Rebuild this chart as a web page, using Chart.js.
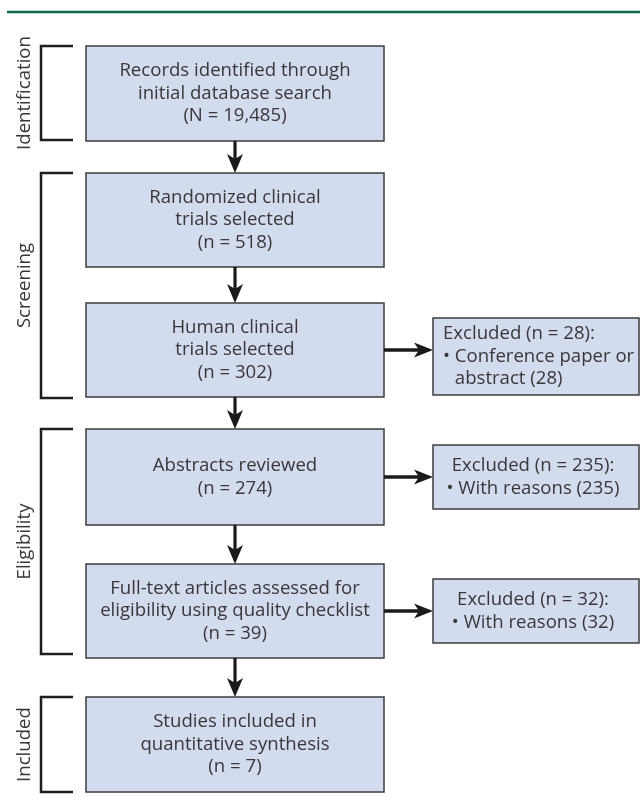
<!DOCTYPE html>
<html>
<head>
<meta charset="utf-8">
<script src="https://cdn.jsdelivr.net/npm/chart.js@4"></script>
<style>
  html, body { margin: 0; padding: 0; background: #ffffff; }
  #wrap { width: 640px; height: 807px; position: relative; }
</style>
</head>
<body>
<div id="wrap"><canvas id="c" width="640" height="807"></canvas></div>
<script>
// ---- DATA ----
const stages = ["Identification", "Screening", "Eligibility", "Included"];
const mainSteps = [
  "Records identified through\ninitial database search",
  "Randomized clinical\ntrials selected",
  "Human clinical\ntrials selected",
  "Abstracts reviewed",
  "Full-text articles assessed for\neligibility using quality checklist",
  "Studies included in\nquantitative synthesis"
];
const mainCountSymbols = ["N", "n", "n", "n", "n", "n"];
const mainCounts = [19485, 518, 302, 274, 39, 7];
const excludedFromStep = [2, 3, 4];
const excludedCounts = [28, 235, 32];
const excludedReasons = ["Conference paper or\nabstract", "With reasons", "With reasons"];
const excludedReasonCounts = [28, 235, 32];

// ---- LAYOUT (in scale units) ----
const mainX = [86, 384];
const mainRows = [[46, 141], [173, 267], [303, 397], [429, 525], [564, 658], [697, 792]];
const exclX = [433, 639];
const exclRows = [[318, 395], [445, 509], [579, 643]];
const exclAlign = ["left", "center", "center"];
const stageRows = [[46, 140], [173, 398], [429, 654], [697, 792]];
const bracketX = [41, 73];
const stageLabelX = 25;

const FONT = "'Open Sans', 'Noto Sans', sans-serif";
const BOX_FILL = "#d3dbee";
const BOX_STROKE = "#3c3c3c";
const TEXT = "#383838";
const LINE_H = 22.5;

function fmt(n) { return n.toLocaleString("en-US"); }

const flowPlugin = {
  id: "flow",
  afterDraw(chart) {
    const ctx = chart.ctx;
    const xs = chart.scales.x, ys = chart.scales.y;
    const X = v => xs.getPixelForValue(v);
    const Y = v => ys.getPixelForValue(v);
    ctx.save();

    // top rule
    ctx.strokeStyle = "#0b6a4d";
    ctx.lineWidth = 2.5;
    ctx.beginPath(); ctx.moveTo(X(7), Y(12)); ctx.lineTo(X(640), Y(12)); ctx.stroke();

    function box(x0, x1, y0, y1) {
      ctx.fillStyle = BOX_FILL;
      ctx.fillRect(X(x0), Y(y0), X(x1) - X(x0), Y(y1) - Y(y0));
      ctx.strokeStyle = BOX_STROKE;
      ctx.lineWidth = 1.5;
      ctx.strokeRect(X(x0), Y(y0), X(x1) - X(x0), Y(y1) - Y(y0));
    }
    function arrowDown(x, y0, y1) {
      const px = X(x), p0 = Y(y0), p1 = Y(y1);
      const hl = 19, hw = 8, notch = 5;
      ctx.strokeStyle = "#1a1a1a"; ctx.fillStyle = "#1a1a1a";
      ctx.lineWidth = 3.2;
      ctx.beginPath(); ctx.moveTo(px, p0); ctx.lineTo(px, p1 - hl + notch + 1); ctx.stroke();
      ctx.beginPath();
      ctx.moveTo(px, p1);
      ctx.lineTo(px - hw, p1 - hl);
      ctx.lineTo(px, p1 - hl + notch);
      ctx.lineTo(px + hw, p1 - hl);
      ctx.closePath(); ctx.fill();
    }
    function arrowRight(y, x0, x1) {
      const py = Y(y), p0 = X(x0), p1 = X(x1);
      const hl = 19, hw = 7.5, notch = 5;
      ctx.strokeStyle = "#1a1a1a"; ctx.fillStyle = "#1a1a1a";
      ctx.lineWidth = 3.6;
      ctx.beginPath(); ctx.moveTo(p0, py); ctx.lineTo(p1 - hl + notch + 1, py); ctx.stroke();
      ctx.beginPath();
      ctx.moveTo(p1, py);
      ctx.lineTo(p1 - hl, py - hw);
      ctx.lineTo(p1 - hl + notch, py);
      ctx.lineTo(p1 - hl, py + hw);
      ctx.closePath(); ctx.fill();
    }

    ctx.font = "18.6px " + FONT;
    ctx.textBaseline = "middle";

    // main boxes
    const cx = (mainX[0] + mainX[1]) / 2;
    mainSteps.forEach((t, i) => {
      const [y0, y1] = mainRows[i];
      box(mainX[0], mainX[1], y0, y1);
      const lines = t.split("\n").concat(["(" + mainCountSymbols[i] + " = " + fmt(mainCounts[i]) + ")"]);
      const mid = (Y(y0) + Y(y1)) / 2;
      ctx.fillStyle = TEXT; ctx.textAlign = "center";
      lines.forEach((l, k) => {
        ctx.fillText(l, X(cx), mid + (k - (lines.length - 1) / 2) * LINE_H);
      });
      if (i < mainSteps.length - 1) arrowDown(cx, y1, mainRows[i + 1][0]);
    });

    // excluded boxes
    excludedCounts.forEach((n, j) => {
      const [y0, y1] = exclRows[j];
      const src = mainRows[excludedFromStep[j]];
      const ay = (src[0] + src[1]) / 2;
      arrowRight(ay, mainX[1], exclX[0]);
      box(exclX[0], exclX[1], y0, y1);
      const rs = excludedReasons[j].split("\n");
      rs[rs.length - 1] += " (" + fmt(excludedReasonCounts[j]) + ")";
      const lines = [{ t: "Excluded (n = " + fmt(n) + "):", indent: 0 }];
      rs.forEach((r, k) => lines.push({ t: (k === 0 ? "\u2022 " : "") + r, indent: k === 0 ? 0 : 1 }));
      const mid = (Y(y0) + Y(y1)) / 2;
      ctx.fillStyle = TEXT;
      lines.forEach((l, k) => {
        const yy = mid + (k - (lines.length - 1) / 2) * LINE_H;
        if (exclAlign[j] === "left") {
          ctx.textAlign = "left";
          const ind = l.indent ? ctx.measureText("\u2022 ").width : 0;
          ctx.fillText(l.t, X(exclX[0]) + 10 + ind, yy);
        } else {
          ctx.textAlign = "center";
          ctx.fillText(l.t, (X(exclX[0]) + X(exclX[1])) / 2 - 3, yy);
        }
      });
    });

    // stage brackets and labels
    stages.forEach((s, i) => {
      const [y0, y1] = stageRows[i];
      ctx.strokeStyle = "#1e1e1e"; ctx.lineWidth = 2.5;
      ctx.beginPath();
      ctx.moveTo(X(bracketX[1]), Y(y0));
      ctx.lineTo(X(bracketX[0]), Y(y0));
      ctx.lineTo(X(bracketX[0]), Y(y1));
      ctx.lineTo(X(bracketX[1]), Y(y1));
      ctx.stroke();
      ctx.save();
      ctx.translate(X(stageLabelX), (Y(y0) + Y(y1)) / 2);
      ctx.rotate(-Math.PI / 2);
      ctx.fillStyle = TEXT; ctx.textAlign = "center"; ctx.textBaseline = "middle";
      ctx.fillText(s, 0, 0);
      ctx.restore();
    });

    ctx.restore();
  }
};

new Chart(document.getElementById("c"), {
  type: "scatter",
  data: { datasets: [{ data: [], pointRadius: 0 }] },
  options: {
    responsive: false,
    animation: false,
    events: [],
    layout: { padding: 0 },
    plugins: { legend: { display: false }, tooltip: { enabled: false } },
    scales: {
      x: { type: "linear", min: 0, max: 640, display: false },
      y: { type: "linear", min: 0, max: 807, reverse: true, display: false }
    }
  },
  plugins: [flowPlugin]
});
</script>
</body>
</html>
